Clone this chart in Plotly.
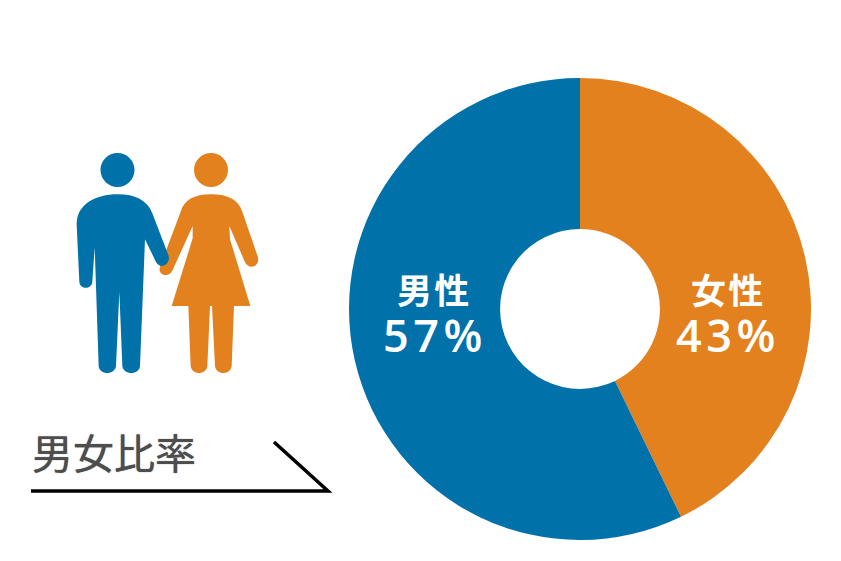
import plotly.graph_objects as go

W, H = 841, 561
categories = ["女性", "男性"]
slice_values = [42.8, 57.2]
value_labels = ["43%", "57%"]
colors = ["#E3811E", "#0071A9"]
title_text = "男女比率"
TEXT_FONT = "Noto Sans CJK JP"

# Pictogram outlines, traced at 3x from the crop at offset (60,140)
OX, OY, S = 60, 140, 3


def p(x, y):
    return f"{OX + x / S:.2f},{OY + y / S:.2f}"


def path(cmds):
    out = []
    for c in cmds:
        out.append(c[0] + " ".join(p(c[i], c[i + 1]) for i in range(1, len(c), 2)))
    return " ".join(out) + " Z"


man = [
    ("M", 173, 163), ("C", 225, 163, 262, 180, 277, 220), ("L", 326, 348),
    ("C", 332, 372, 302, 392, 288, 366), ("L", 255, 298), ("L", 240, 678),
    ("C", 238, 706, 190, 706, 187, 678), ("L", 178, 455), ("L", 168, 678),
    ("C", 165, 706, 118, 706, 116, 678), ("L", 104, 322), ("L", 97, 425),
    ("C", 95, 449, 60, 449, 58, 425), ("L", 50, 255),
    ("C", 48, 195, 105, 163, 173, 163),
]
woman = [
    ("M", 453, 163), ("C", 505, 163, 535, 180, 547, 215), ("L", 594, 352),
    ("C", 600, 382, 565, 392, 553, 362), ("L", 508, 258), ("L", 510, 298),
    ("L", 571, 498), ("L", 522, 498), ("L", 515, 678),
    ("C", 512, 706, 468, 706, 465, 678), ("L", 456, 498), ("L", 450, 498),
    ("L", 442, 678), ("C", 439, 706, 395, 706, 392, 678), ("L", 385, 498),
    ("L", 335, 498), ("L", 398, 295), ("L", 398, 258), ("L", 337, 392),
    ("C", 325, 415, 292, 405, 300, 380), ("L", 362, 215),
    ("C", 372, 180, 402, 163, 453, 163),
]

fig = go.Figure(
    go.Pie(
        labels=categories,
        values=slice_values,
        marker=dict(colors=colors, line=dict(width=0)),
        hole=0.346,
        sort=False,
        direction="clockwise",
        rotation=0,
        textinfo="none",
        hoverinfo="label+percent",
        showlegend=False,
        domain=dict(x=[349 / W, 811 / W], y=[1 - 540 / H, 1 - 78 / H]),
    )
)

shapes = [
    dict(type="path", path=path(woman), fillcolor=colors[0], line_width=0, xref="x", yref="y"),
    dict(type="path", path=path(man), fillcolor=colors[1], line_width=0, xref="x", yref="y"),
    dict(type="circle", x0=194, x1=228, y0=153, y1=187, fillcolor=colors[0], line_width=0, xref="x", yref="y"),
    dict(type="circle", x0=100.5, x1=134.5, y0=153, y1=187, fillcolor=colors[1], line_width=0, xref="x", yref="y"),
    dict(type="path", path="M31,491 L328,491 L274,442", line=dict(color="#000000", width=3.5), xref="x", yref="y"),
]

annotations = [
    dict(x=113.5, y=451, text=title_text,
         font=dict(family=TEXT_FONT, size=41, color="#4D4D4D", shadow="0 0 1px #4D4D4D")),
    dict(x=726.5, y=288, text="\u200a".join(categories[0]),
         font=dict(family=TEXT_FONT, size=35, color="white", weight=700)),
    dict(x=432.5, y=288, text="\u200a".join(categories[1]),
         font=dict(family=TEXT_FONT, size=35, color="white", weight=700)),
    dict(x=725.5, y=334, text="\u200a".join(value_labels[0]),
         font=dict(family="Open Sans", size=45, color="white", weight=600)),
    dict(x=432.5, y=334, text="\u200a".join(value_labels[1]),
         font=dict(family="Open Sans", size=45, color="white", weight=600)),
]
for a in annotations:
    a.update(xref="x", yref="y", showarrow=False, xanchor="center", yanchor="middle")

fig.update_layout(
    width=W,
    height=H,
    margin=dict(l=0, r=0, t=0, b=0),
    paper_bgcolor="white",
    plot_bgcolor="rgba(0,0,0,0)",
    xaxis=dict(range=[0, W], visible=False, fixedrange=True),
    yaxis=dict(range=[H, 0], visible=False, fixedrange=True),
    shapes=shapes,
    annotations=annotations,
)
fig.write_html(
    "out.html",
    config={"displayModeBar": False},
    post_script="document.body.style.margin='0';document.documentElement.style.overflow='hidden';",
)
